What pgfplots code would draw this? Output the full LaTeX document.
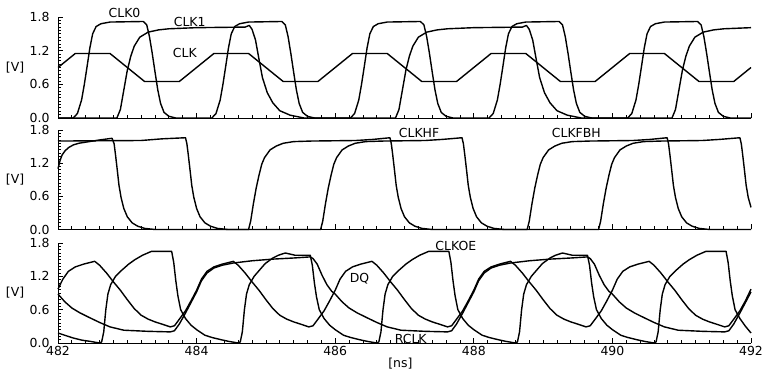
\documentclass[border=0pt]{standalone}
\usepackage{fontspec}
\setmainfont{DejaVu Sans}
\usepackage{pgfplots}
\pgfplotsset{compat=1.18}
\newcommand\lf{\fontsize{12.5}{15}\selectfont}
\pgfplotsset{
  /pgf/number format/assume math mode=true,
  panel/.style={
    scale only axis, width=693bp,
    xmin=482, xmax=492, ymin=0, ymax=1.8,
    axis lines=left,
    axis line style={-, black, line width=0.9bp},
    xtick={482,484,...,492}, ytick={0,0.6,1.2,1.8},
    minor x tick num=9, minor y tick num=9,
    tick align=inside,
    major tick length=5bp, minor tick length=3bp,
    tick style={draw=black, line width=0.8bp},
    every tick/.append style={draw=black},
    every minor tick/.append style={draw=black},
    clip=false,
    font=\lf,
    ticklabel style={font=\lf},
    yticklabel style={/pgf/number format/.cd, fixed, fixed zerofill, precision=1, /tikz/.cd, xshift=-5bp},
    ylabel={[V]},
    ylabel style={rotate=-90, at={(axis description cs:-0.062,0.5)}, anchor=center, font=\lf},
    every axis plot post/.append style={black, line width=1.4bp, mark=none, line join=round},
  }
}
\begin{document}
\begin{tikzpicture}
\useasboundingbox (0,0) rectangle (778bp,372bp);
% ---------------- Panel 1 ----------------
\begin{axis}[panel, at={(58bp,254bp)}, anchor=south west, height=101bp, xticklabels={}]
% CLK
\addplot coordinates {(482.0,0.9) (482.25,1.15) (482.75,1.15) (483.25,0.65) (483.75,0.65) (484.25,1.15) (484.75,1.15) (485.25,0.65) (485.75,0.65) (486.25,1.15) (486.75,1.15) (487.25,0.65) (487.75,0.65) (488.25,1.15) (488.75,1.15) (489.25,0.65) (489.75,0.65) (490.25,1.15) (490.75,1.15) (491.25,0.65) (491.75,0.65) (492.0,0.9)};
% CLK0
\addplot coordinates {(482.0,0) (482.22,0) (482.28,0.08) (482.34,0.32) (482.38,0.6) (482.42,0.92) (482.46,1.25) (482.5,1.5) (482.55,1.63) (482.62,1.68) (482.75,1.71) (483.23,1.72) (483.28,1.66) (483.32,1.45) (483.36,1.15) (483.4,0.82) (483.44,0.5) (483.48,0.26) (483.53,0.1) (483.6,0.03) (483.7,0)
(484.22,0) (484.28,0.08) (484.34,0.32) (484.38,0.6) (484.42,0.92) (484.46,1.25) (484.5,1.5) (484.55,1.63) (484.62,1.68) (484.75,1.71) (485.23,1.72) (485.28,1.66) (485.32,1.45) (485.36,1.15) (485.4,0.82) (485.44,0.5) (485.48,0.26) (485.53,0.1) (485.6,0.03) (485.7,0)
(486.22,0) (486.28,0.08) (486.34,0.32) (486.38,0.6) (486.42,0.92) (486.46,1.25) (486.5,1.5) (486.55,1.63) (486.62,1.68) (486.75,1.71) (487.23,1.72) (487.28,1.66) (487.32,1.45) (487.36,1.15) (487.4,0.82) (487.44,0.5) (487.48,0.26) (487.53,0.1) (487.6,0.03) (487.7,0)
(488.22,0) (488.28,0.08) (488.34,0.32) (488.38,0.6) (488.42,0.92) (488.46,1.25) (488.5,1.5) (488.55,1.63) (488.62,1.68) (488.75,1.71) (489.23,1.72) (489.28,1.66) (489.32,1.45) (489.36,1.15) (489.4,0.82) (489.44,0.5) (489.48,0.26) (489.53,0.1) (489.6,0.03) (489.7,0)
(490.22,0) (490.28,0.08) (490.34,0.32) (490.38,0.6) (490.42,0.92) (490.46,1.25) (490.5,1.5) (490.55,1.63) (490.62,1.68) (490.75,1.71) (491.23,1.72) (491.28,1.66) (491.32,1.45) (491.36,1.15) (491.4,0.82) (491.44,0.5) (491.48,0.26) (491.53,0.1) (491.6,0.03) (491.7,0) (492.0,0)};
% CLK1
\addplot coordinates {(482.0,0) (482.85,0) (482.9,0.15) (482.95,0.5) (483.0,0.85) (483.05,1.1) (483.1,1.28) (483.18,1.44) (483.3,1.53) (483.45,1.57) (483.6,1.59) (484.0,1.61) (484.7,1.62) (484.76,1.65) (484.8,1.58) (484.85,1.39) (484.9,1.05) (484.95,0.72) (485.02,0.45) (485.1,0.27) (485.2,0.13) (485.35,0.05) (485.55,0)
(486.87,0) (486.92,0.15) (486.97,0.5) (487.02,0.85) (487.07,1.1) (487.12,1.28) (487.2,1.44) (487.32,1.53) (487.47,1.57) (487.62,1.59) (488.0,1.61) (488.7,1.62) (488.76,1.65) (488.8,1.58) (488.85,1.39) (488.9,1.05) (488.95,0.72) (489.02,0.45) (489.1,0.27) (489.2,0.13) (489.35,0.05) (489.55,0)
(490.86,0) (490.91,0.15) (490.96,0.5) (491.01,0.85) (491.06,1.1) (491.11,1.28) (491.19,1.44) (491.31,1.53) (491.46,1.57) (491.61,1.59) (492.0,1.61)};
\node[font=\lf] at (axis cs:482.96,1.866) {CLK0};
\node[font=\lf] at (axis cs:483.9,1.717) {CLK1};
\node[font=\lf] at (axis cs:483.83,1.153) {CLK};
\end{axis}
% ---------------- Panel 2 ----------------
\begin{axis}[panel, at={(58bp,142.5bp)}, anchor=south west, height=99.5bp, xticklabels={}]
% CLKHF
\addplot coordinates {(482.0,1.1) (482.03,1.25) (482.06,1.35) (482.1,1.42) (482.15,1.48) (482.22,1.53) (482.3,1.56) (482.45,1.59) (482.6,1.62) (482.78,1.65) (482.81,1.55) (482.83,1.35) (482.855,1.08) (482.88,0.8) (482.91,0.58) (482.95,0.38) (483.0,0.23) (483.07,0.12) (483.15,0.06) (483.25,0.02) (483.4,0)
(484.75,0) (484.78,0.15) (484.82,0.47) (484.86,0.75) (484.9,0.98) (484.94,1.18) (484.98,1.3) (485.06,1.44) (485.15,1.51) (485.25,1.56) (485.4,1.59) (485.65,1.6) (486.3,1.61) (486.55,1.63) (486.79,1.66) (486.81,1.55) (486.83,1.35) (486.855,1.08) (486.88,0.8) (486.91,0.58) (486.95,0.38) (487.0,0.23) (487.07,0.12) (487.15,0.06) (487.25,0.02) (487.4,0)
(488.77,0) (488.8,0.15) (488.84,0.47) (488.88,0.75) (488.92,0.98) (488.96,1.18) (489.0,1.3) (489.08,1.44) (489.17,1.51) (489.27,1.56) (489.42,1.59) (489.67,1.6) (490.3,1.61) (490.55,1.63) (490.79,1.66) (490.81,1.55) (490.83,1.35) (490.855,1.08) (490.88,0.8) (490.91,0.58) (490.95,0.38) (491.0,0.23) (491.07,0.12) (491.15,0.06) (491.25,0.02) (491.4,0) (492.0,0)};
% CLKFBH
\addplot coordinates {(482.0,1.6) (483.2,1.61) (483.5,1.64) (483.84,1.66) (483.86,1.55) (483.88,1.35) (483.905,1.08) (483.93,0.8) (483.96,0.58) (484.0,0.38) (484.05,0.23) (484.12,0.12) (484.2,0.06) (484.3,0.02) (484.45,0)
(485.79,0) (485.82,0.15) (485.86,0.47) (485.9,0.75) (485.94,0.98) (485.98,1.18) (486.02,1.3) (486.1,1.44) (486.19,1.51) (486.29,1.56) (486.44,1.59) (486.69,1.6) (487.3,1.61) (487.55,1.63) (487.83,1.66) (487.85,1.55) (487.87,1.35) (487.895,1.08) (487.92,0.8) (487.95,0.58) (487.99,0.38) (488.04,0.23) (488.11,0.12) (488.19,0.06) (488.29,0.02) (488.44,0)
(489.8,0) (489.83,0.15) (489.87,0.47) (489.91,0.75) (489.95,0.98) (489.99,1.18) (490.03,1.3) (490.11,1.44) (490.2,1.51) (490.3,1.56) (490.45,1.59) (490.7,1.6) (491.3,1.61) (491.55,1.63) (491.84,1.66) (491.86,1.55) (491.88,1.35) (491.905,1.08) (491.93,0.8) (491.96,0.58) (492.0,0.4)};
\node[font=\lf] at (axis cs:487.21,1.74) {CLKHF};
\node[font=\lf] at (axis cs:489.48,1.74) {CLKFBH};
\end{axis}
% ---------------- Panel 3 ----------------
\begin{axis}[panel, at={(58bp,29bp)}, anchor=south west, height=100bp,
  xlabel={[ns]}, xlabel style={at={(axis description cs:0.494,-0.21)}, anchor=center, font=\lf}]
% CLKOE
\addplot coordinates {(482.0,0.18) (482.12,0.13) (482.22,0.09) (482.35,0.05) (482.46,0.03) (482.6,0) (482.63,0.02) (482.66,0.2) (482.69,0.6) (482.72,0.88) (482.76,1.05) (482.83,1.2) (482.92,1.31) (483.02,1.42) (483.11,1.5) (483.22,1.58) (483.35,1.65) (483.64,1.65) (483.67,1.45) (483.7,1.12) (483.73,0.85) (483.77,0.6) (483.84,0.44) (483.92,0.32)
(484.0,0.24) (484.12,0.14) (484.22,0.1) (484.35,0.06) (484.46,0.03) (484.6,0) (484.63,0.02) (484.66,0.2) (484.69,0.6) (484.72,0.88) (484.76,1.05) (484.83,1.2) (484.92,1.33) (484.99,1.43) (485.1,1.53) (485.18,1.58) (485.28,1.62) (485.42,1.58) (485.64,1.58) (485.67,1.4) (485.7,1.08) (485.73,0.83) (485.77,0.6) (485.84,0.44) (485.92,0.32)
(486.0,0.24) (486.12,0.14) (486.22,0.1) (486.35,0.06) (486.46,0.03) (486.6,0) (486.63,0.02) (486.66,0.2) (486.69,0.6) (486.72,0.88) (486.76,1.05) (486.83,1.2) (486.92,1.31) (487.02,1.42) (487.11,1.5) (487.22,1.58) (487.35,1.65) (487.64,1.65) (487.67,1.45) (487.7,1.12) (487.73,0.85) (487.77,0.6) (487.84,0.44) (487.92,0.32)
(488.0,0.24) (488.12,0.14) (488.22,0.1) (488.35,0.06) (488.46,0.03) (488.6,0) (488.63,0.02) (488.66,0.2) (488.69,0.6) (488.72,0.88) (488.76,1.05) (488.83,1.2) (488.92,1.33) (488.99,1.43) (489.1,1.53) (489.18,1.58) (489.28,1.62) (489.42,1.58) (489.64,1.58) (489.67,1.4) (489.7,1.08) (489.73,0.83) (489.77,0.6) (489.84,0.44) (489.92,0.32)
(490.0,0.24) (490.12,0.14) (490.22,0.1) (490.35,0.06) (490.46,0.03) (490.6,0) (490.63,0.02) (490.66,0.2) (490.69,0.6) (490.72,0.88) (490.76,1.05) (490.83,1.2) (490.92,1.31) (491.02,1.42) (491.11,1.5) (491.22,1.58) (491.35,1.65) (491.64,1.65) (491.67,1.45) (491.7,1.12) (491.73,0.85) (491.77,0.6) (491.84,0.44) (491.92,0.3) (492.0,0.18)};
% DQ
\addplot coordinates {(482.0,0.97) (482.07,1.15) (482.15,1.29) (482.25,1.37) (482.37,1.42) (482.53,1.47) (482.6,1.4) (482.7,1.26) (482.8,1.1) (482.9,0.95) (483.0,0.78) (483.1,0.62) (483.2,0.5) (483.3,0.43) (483.4,0.38) (483.5,0.34) (483.62,0.29) (483.68,0.31) (483.74,0.41) (483.84,0.58) (483.92,0.76)
(484.0,0.95) (484.07,1.15) (484.15,1.29) (484.25,1.37) (484.37,1.42) (484.53,1.47) (484.6,1.4) (484.7,1.26) (484.8,1.1) (484.9,0.95) (485.0,0.78) (485.1,0.62) (485.2,0.5) (485.3,0.43) (485.4,0.38) (485.5,0.34) (485.62,0.29) (485.68,0.31) (485.74,0.41) (485.84,0.58) (485.92,0.76)
(486.0,0.95) (486.07,1.15) (486.15,1.29) (486.25,1.37) (486.37,1.42) (486.53,1.47) (486.6,1.4) (486.7,1.26) (486.8,1.1) (486.9,0.95) (487.0,0.78) (487.1,0.62) (487.2,0.5) (487.3,0.43) (487.4,0.38) (487.5,0.34) (487.62,0.29) (487.68,0.31) (487.74,0.41) (487.84,0.58) (487.92,0.76)
(488.0,0.95) (488.07,1.15) (488.15,1.29) (488.25,1.37) (488.37,1.42) (488.53,1.47) (488.6,1.4) (488.7,1.26) (488.8,1.1) (488.9,0.95) (489.0,0.78) (489.1,0.62) (489.2,0.5) (489.3,0.43) (489.4,0.38) (489.5,0.34) (489.62,0.29) (489.68,0.31) (489.74,0.41) (489.84,0.58) (489.92,0.76)
(490.0,0.95) (490.07,1.15) (490.15,1.29) (490.25,1.37) (490.37,1.42) (490.53,1.47) (490.6,1.4) (490.7,1.26) (490.8,1.1) (490.9,0.95) (491.0,0.78) (491.1,0.62) (491.2,0.5) (491.3,0.43) (491.4,0.38) (491.5,0.34) (491.62,0.29) (491.68,0.31) (491.74,0.41) (491.84,0.58) (491.92,0.76) (492.0,0.97)};
% RCLK
\addplot coordinates {(482.0,0.88) (482.1,0.74) (482.2,0.63) (482.32,0.54) (482.45,0.46) (482.6,0.37) (482.75,0.29) (482.95,0.23) (483.3,0.21) (483.62,0.2) (483.68,0.22) (483.75,0.34) (483.84,0.54) (483.92,0.73) (484.0,0.92) (484.07,1.12) (484.15,1.26) (484.25,1.35) (484.37,1.4) (484.53,1.44) (484.8,1.48) (485.1,1.51) (485.4,1.53) (485.64,1.55) (485.68,1.52) (485.74,1.42) (485.81,1.22) (485.88,1.05) (485.95,0.93)
(486.0,0.88) (486.1,0.74) (486.2,0.63) (486.32,0.54) (486.45,0.46) (486.6,0.37) (486.75,0.29) (486.95,0.23) (487.3,0.21) (487.62,0.2) (487.68,0.22) (487.75,0.34) (487.84,0.54) (487.92,0.73) (488.0,0.92) (488.07,1.12) (488.15,1.26) (488.25,1.35) (488.37,1.4) (488.53,1.44) (488.8,1.48) (489.1,1.51) (489.4,1.53) (489.64,1.55) (489.68,1.52) (489.74,1.42) (489.81,1.22) (489.88,1.05) (489.95,0.93)
(490.0,0.88) (490.1,0.74) (490.2,0.63) (490.32,0.54) (490.45,0.46) (490.6,0.37) (490.75,0.29) (490.95,0.23) (491.3,0.21) (491.62,0.2) (491.68,0.22) (491.75,0.34) (491.84,0.54) (491.92,0.73) (492.0,0.92)};
\node[font=\lf] at (axis cs:487.74,1.745) {CLKOE};
\node[font=\lf] at (axis cs:486.35,1.15) {DQ};
\node[font=\lf] at (axis cs:487.09,0.08) {RCLK};
\end{axis}
\end{tikzpicture}
\end{document}
